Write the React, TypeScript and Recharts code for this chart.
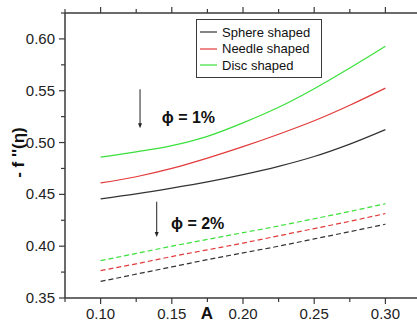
import React from 'react';
import { LineChart, Line, XAxis, YAxis, Legend, ReferenceLine, ReferenceDot } from 'recharts';

const aValues = [0.1, 0.125, 0.15, 0.175, 0.2, 0.225, 0.25, 0.275, 0.3];

// phi = 1% (solid)
const sphere1 = [0.4457, 0.4505, 0.456, 0.462, 0.469, 0.477, 0.4865, 0.4985, 0.5125];
const needle1 = [0.461, 0.467, 0.475, 0.485, 0.496, 0.508, 0.521, 0.536, 0.5525];
const disc1 = [0.486, 0.491, 0.497, 0.506, 0.519, 0.534, 0.552, 0.572, 0.593];

// phi = 2% (dashed)
const sphere2 = [0.366, 0.373, 0.38, 0.387, 0.3935, 0.4, 0.407, 0.414, 0.4212];
const needle2 = [0.3765, 0.383, 0.39, 0.3965, 0.403, 0.41, 0.417, 0.424, 0.4315];
const disc2 = [0.386, 0.393, 0.4, 0.4065, 0.413, 0.4195, 0.4265, 0.4335, 0.441];

const seriesNames = ['Sphere shaped', 'Needle shaped', 'Disc shaped'];

const xMajor = [0.1, 0.15, 0.2, 0.25, 0.3];
const xMinor = [0.075, 0.125, 0.175, 0.225, 0.275, 0.325];
const yMajor = [0.35, 0.4, 0.45, 0.5, 0.55, 0.6];
const yMinor = [0.375, 0.425, 0.475, 0.525, 0.575, 0.625];

const arrows = [
  { x: 0.1277, from: 0.5514, to: 0.5137 },
  { x: 0.1394, from: 0.4429, to: 0.4089 },
];
const notes = [
  { x: 0.1429, y: 0.524, text: 'ϕ = 1%' },
  { x: 0.1494, y: 0.4224, text: 'ϕ = 2%' },
];

const data = aValues.map((a, i) => ({
  a,
  sphere1: sphere1[i],
  needle1: needle1[i],
  disc1: disc1[i],
  sphere2: sphere2[i],
  needle2: needle2[i],
  disc2: disc2[i],
}));

const FONT = 'Arial, "Liberation Sans", sans-serif';
const AXIS = '#3a3a3a';
const BLACK = '#333333';
const RED = '#e23a3a';
const GREEN = '#3ae03a';
const colors = [BLACK, RED, GREEN];

const isMajor = (v: number, list: number[]) => list.some((m) => Math.abs(m - v) < 1e-6);

const BottomTick = (props: any) => {
  const { x, y, payload } = props;
  const major = isMajor(payload.value, xMajor);
  return (
    <g>
      <line x1={x} x2={x} y1={y} y2={y + (major ? 6 : 4)} stroke={AXIS} strokeWidth={1.2} />
      {major && (
        <text x={x} y={y + 21} textAnchor="middle" fontSize={15} fontFamily={FONT} fill="#222">
          {payload.value.toFixed(2)}
        </text>
      )}
    </g>
  );
};

const TopTick = (props: any) => {
  const { x, y, payload } = props;
  const major = isMajor(payload.value, xMajor);
  return <line x1={x} x2={x} y1={y} y2={y - (major ? 6 : 4)} stroke={AXIS} strokeWidth={1.2} />;
};

const LeftTick = (props: any) => {
  const { x, y, payload } = props;
  const major = isMajor(payload.value, yMajor);
  return (
    <g>
      <line x1={x} x2={x - (major ? 6 : 4)} y1={y} y2={y} stroke={AXIS} strokeWidth={1.2} />
      {major && (
        <text x={x - 10} y={y + 5} textAnchor="end" fontSize={15} fontFamily={FONT} fill="#222">
          {payload.value.toFixed(2)}
        </text>
      )}
    </g>
  );
};

const RightTick = (props: any) => {
  const { x, y, payload } = props;
  const major = isMajor(payload.value, yMajor);
  return <line x1={x} x2={x + (major ? 6 : 4)} y1={y} y2={y} stroke={AXIS} strokeWidth={1.2} />;
};

const Arrow = (props: any) => {
  const { x1, y1, x2, y2 } = props;
  return (
    <g>
      <line x1={x1} y1={y1} x2={x2} y2={y2 - 3} stroke="#222" strokeWidth={1} />
      <polygon points={`${x2 - 2},${y2 - 5} ${x2 + 2},${y2 - 5} ${x2},${y2}`} fill="#222" />
    </g>
  );
};

const renderLegend = () => (
  <div
    style={{
      border: `1px solid ${AXIS}`,
      background: '#fff',
      padding: '4px 3px 4px 3px',
      boxSizing: 'border-box',
      width: 126,
      height: 59,
      fontFamily: FONT,
      fontSize: 13,
      color: '#111',
    }}
  >
    {seriesNames.map((name, i) => (
      <div key={name} style={{ display: 'flex', alignItems: 'center', height: 16.5 }}>
        <svg width={17} height={4} style={{ marginRight: 5 }}>
          <line x1={0} x2={17} y1={2} y2={2} stroke={colors[i]} strokeWidth={1.2} />
        </svg>
        <span>{name}</span>
      </div>
    ))}
  </div>
);

export default function App() {
  return (
    <div style={{ position: 'absolute', left: 0, top: 0, width: 417, height: 322, overflow: 'hidden', background: '#fff' }}>
      <LineChart width={440} height={322} data={data} margin={{ top: 0, right: 0, bottom: 0, left: 0 }}>
        <XAxis
          xAxisId="b"
          dataKey="a"
          type="number"
          domain={[0.075, 0.325]}
          ticks={[...xMajor, ...xMinor]}
          height={24}
          tickSize={0}
          tickMargin={0}
          tick={<BottomTick />}
          axisLine={{ stroke: AXIS, strokeWidth: 1.5 }}
          interval={0}
          allowDataOverflow
          label={{
            content: (p: any) => (
              <text x={p.viewBox.x + 142} y={p.viewBox.y + 21} textAnchor="middle" fontSize={17} fontWeight="bold" fontFamily={FONT} fill="#111">
                A
              </text>
            ),
          }}
        />
        <XAxis
          xAxisId="t"
          orientation="top"
          dataKey="a"
          type="number"
          domain={[0.075, 0.325]}
          ticks={[...xMajor, ...xMinor]}
          height={13}
          tickSize={0}
          tickMargin={0}
          tick={<TopTick />}
          axisLine={{ stroke: AXIS, strokeWidth: 1.5 }}
          interval={0}
          allowDataOverflow
        />
        <YAxis
          yAxisId="l"
          type="number"
          domain={[0.35, 0.625]}
          ticks={[...yMajor, ...yMinor]}
          width={65}
          tickSize={0}
          tickMargin={0}
          tick={<LeftTick />}
          axisLine={{ stroke: AXIS, strokeWidth: 1.5 }}
          interval={0}
          allowDataOverflow
          label={{
            content: (p: any) => {
              const cx = 18;
              const cy = p.viewBox.y + p.viewBox.height / 2 - 3;
              return (
                <text x={cx} y={cy} transform={`rotate(-90, ${cx}, ${cy})`} dy="0.35em" textAnchor="middle" fontSize={17} fontWeight="bold" fontFamily={FONT} fill="#111">
                  {"- f ''(η)"}
                </text>
              );
            },
          }}
        />
        <YAxis
          yAxisId="r"
          orientation="right"
          type="number"
          domain={[0.35, 0.625]}
          ticks={[...yMajor, ...yMinor]}
          width={19}
          tickSize={0}
          tickMargin={0}
          tick={<RightTick />}
          axisLine={{ stroke: AXIS, strokeWidth: 1.5 }}
          interval={0}
          allowDataOverflow
        />
        <Legend
          layout="vertical"
          align="center"
          verticalAlign="middle"
          content={renderLegend}
          wrapperStyle={{ position: 'absolute', left: 196, top: 19, width: 126, height: 59 }}
        />
        {arrows.map((ar, i) => (
          <ReferenceLine
            key={`ar${i}`}
            xAxisId="b"
            yAxisId="l"
            segment={[{ x: ar.x, y: ar.from }, { x: ar.x, y: ar.to }]}
            shape={Arrow}
          />
        ))}
        {notes.map((n, i) => (
          <ReferenceDot
            key={`n${i}`}
            xAxisId="b"
            yAxisId="l"
            x={n.x}
            y={n.y}
            r={0}
            shape={(p: any) => (
              <text x={p.cx} y={p.cy} dy="0.35em" fontSize={16} fontWeight="bold" fontFamily={FONT} fill="#111">
                {n.text}
              </text>
            )}
          />
        ))}
        <Line xAxisId="b" yAxisId="l" type="monotone" dataKey="sphere1" name="Sphere shaped" stroke={BLACK} strokeWidth={1.2} dot={false} isAnimationActive={false} />
        <Line xAxisId="b" yAxisId="l" type="monotone" dataKey="needle1" name="Needle shaped" stroke={RED} strokeWidth={1.2} dot={false} isAnimationActive={false} />
        <Line xAxisId="b" yAxisId="l" type="monotone" dataKey="disc1" name="Disc shaped" stroke={GREEN} strokeWidth={1.2} dot={false} isAnimationActive={false} />
        <Line xAxisId="b" yAxisId="l" type="monotone" dataKey="sphere2" stroke={BLACK} strokeWidth={1.2} strokeDasharray="5 3" dot={false} legendType="none" isAnimationActive={false} />
        <Line xAxisId="b" yAxisId="l" type="monotone" dataKey="needle2" stroke={RED} strokeWidth={1.2} strokeDasharray="5 3" dot={false} legendType="none" isAnimationActive={false} />
        <Line xAxisId="b" yAxisId="l" type="monotone" dataKey="disc2" stroke={GREEN} strokeWidth={1.2} strokeDasharray="5 3" dot={false} legendType="none" isAnimationActive={false} />
      </LineChart>
    </div>
  );
}
